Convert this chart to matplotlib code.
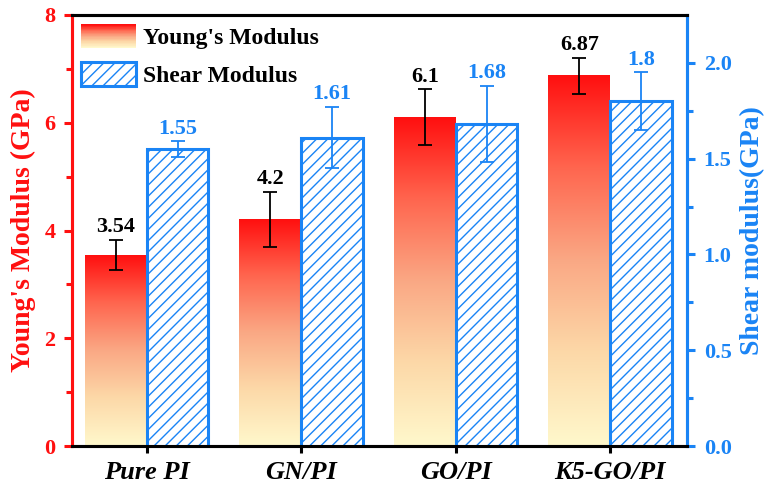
import numpy as np
import matplotlib
matplotlib.use("Agg")
import matplotlib.pyplot as plt
from matplotlib.colors import LinearSegmentedColormap
from matplotlib.patches import Rectangle
from matplotlib.legend_handler import HandlerBase

# ---- data ----
categories = ["Pure PI", "GN/PI", "GO/PI", "K5-GO/PI"]
young = [3.54, 4.2, 6.1, 6.87]
young_err = [0.28, 0.51, 0.52, 0.34]
shear = [1.55, 1.61, 1.68, 1.8]
shear_err = [0.04, 0.16, 0.20, 0.15]
young_ticks = [0, 2, 4, 6, 8]
shear_ticks = [0.0, 0.5, 1.0, 1.5, 2.0]

RED = "#FF1010"
BLUE = "#1A84F5"
SERIF = "Liberation Serif"

grad_cmap = LinearSegmentedColormap.from_list(
    "warm",
    [(0.0, (1.00, 0.973, 0.80)),
     (0.25, (0.99, 0.85, 0.66)),
     (0.5, (0.98, 0.66, 0.52)),
     (0.75, (1.00, 0.40, 0.31)),
     (1.0, (1.00, 0.06, 0.06))])

plt.rcParams["font.family"] = SERIF
plt.rcParams["font.weight"] = "bold"
plt.rcParams["hatch.linewidth"] = 1.0

fig = plt.figure(figsize=(7.64, 4.88), dpi=100)
ax = fig.add_axes([72 / 764, 42 / 488, 615 / 764, 431 / 488])
ax2 = ax.twinx()

x = np.arange(len(categories))
w = 0.4

# Young's modulus: gradient-filled bars on the left axis
ybars = ax.bar(x - w / 2, young, width=w, facecolor="none", edgecolor="none", zorder=2)
grad = np.linspace(1, 0, 256).reshape(-1, 1)
for b in ybars:
    x0, y0 = b.get_x(), b.get_y()
    ax.imshow(grad, cmap=grad_cmap, aspect="auto",
              extent=[x0, x0 + b.get_width(), y0, y0 + b.get_height()],
              zorder=1, interpolation="bilinear")
ax.errorbar(x - w / 2, young, yerr=young_err, fmt="none", ecolor="black",
            elinewidth=1.3, capsize=5, capthick=1.3, zorder=3)
for xi, v, e in zip(x - w / 2, young, young_err):
    ax.annotate(f"{v:g}", (xi, v + e), xytext=(0, 2), textcoords="offset points",
                ha="center", va="bottom", fontsize=16, fontweight="bold", color="black")

# Shear modulus: hatched bars on the right axis
sbars = ax2.bar(x + w / 2, shear, width=w, facecolor="white", edgecolor=BLUE,
                linewidth=2.2, hatch="///", zorder=2)
ax2.errorbar(x + w / 2, shear, yerr=shear_err, fmt="none", ecolor=BLUE,
             elinewidth=1.3, capsize=5, capthick=1.3, zorder=3)
for xi, v, e in zip(x + w / 2, shear, shear_err):
    ax2.annotate(f"{v:g}", (xi, v + e), xytext=(0, 2), textcoords="offset points",
                 ha="center", va="bottom", fontsize=16, fontweight="bold", color=BLUE)

# axes limits and ticks
ax.set_xlim(-0.483, 3.497)
ax.set_ylim(0, 8)
ax2.set_ylim(0, 2.25)
ax.set_xticks(x)
ax.set_xticklabels(categories, fontsize=19, fontweight="bold", style="italic")
ax.set_yticks(young_ticks)
ax.set_yticks([1, 3, 5, 7], minor=True)
ax2.set_yticks(shear_ticks)
ax2.set_yticks([0.25, 0.75, 1.25, 1.75], minor=True)

ax.tick_params(axis="x", length=5, width=2.2, pad=6, color="black")
ax.tick_params(axis="y", which="major", length=6, width=2.2, colors=RED, labelsize=16, pad=6)
ax.tick_params(axis="y", which="minor", length=4, width=2.2, colors=RED)
ax2.tick_params(axis="y", which="major", length=6, width=2.2, colors=BLUE, labelsize=16, pad=6)
ax2.tick_params(axis="y", which="minor", length=4, width=2.2, colors=BLUE)
ax2.set_yticklabels([f"{t:.1f}" for t in shear_ticks])
for lab in ax.get_yticklabels() + ax2.get_yticklabels():
    lab.set_fontweight("bold")

for a in (ax, ax2):
    for s in a.spines.values():
        s.set_linewidth(2.2)
    a.spines["top"].set_color("black")
    a.spines["bottom"].set_color("black")
    a.spines["left"].set_color(RED)
    a.spines["right"].set_color(BLUE)

ax.set_ylabel("Young's Modulus (GPa)", fontsize=20, fontweight="bold", color=RED, labelpad=6)
ax2.set_ylabel("Shear modulus(GPa)", fontsize=20, fontweight="bold", color=BLUE, labelpad=6)


class GradientHandler(HandlerBase):
    def create_artists(self, legend, orig_handle, xdescent, ydescent, width, height,
                       fontsize, trans):
        n = 40
        arts = []
        for i in range(n):
            c = grad_cmap(i / (n - 1))
            r = Rectangle((-xdescent, -ydescent + height * i / n), width, height / n + 0.3,
                          facecolor=c, edgecolor="none", transform=trans)
            arts.append(r)
        return arts


young_handle = Rectangle((0, 0), 1, 1, facecolor=RED)
shear_handle = Rectangle((0, 0), 1, 1, facecolor="white", edgecolor=BLUE,
                         linewidth=2.2, hatch="///")
leg = ax2.legend([young_handle, shear_handle], ["Young's Modulus", "Shear Modulus"],
                 handler_map={young_handle: GradientHandler()},
                 loc="upper left", frameon=False, fontsize=17,
                 handlelength=2.3, handleheight=1.15, labelspacing=0.55,
                 handletextpad=0.3, borderaxespad=0.2, borderpad=0.2)
for t in leg.get_texts():
    t.set_fontweight("bold")

fig.savefig("out.png", dpi=100)
